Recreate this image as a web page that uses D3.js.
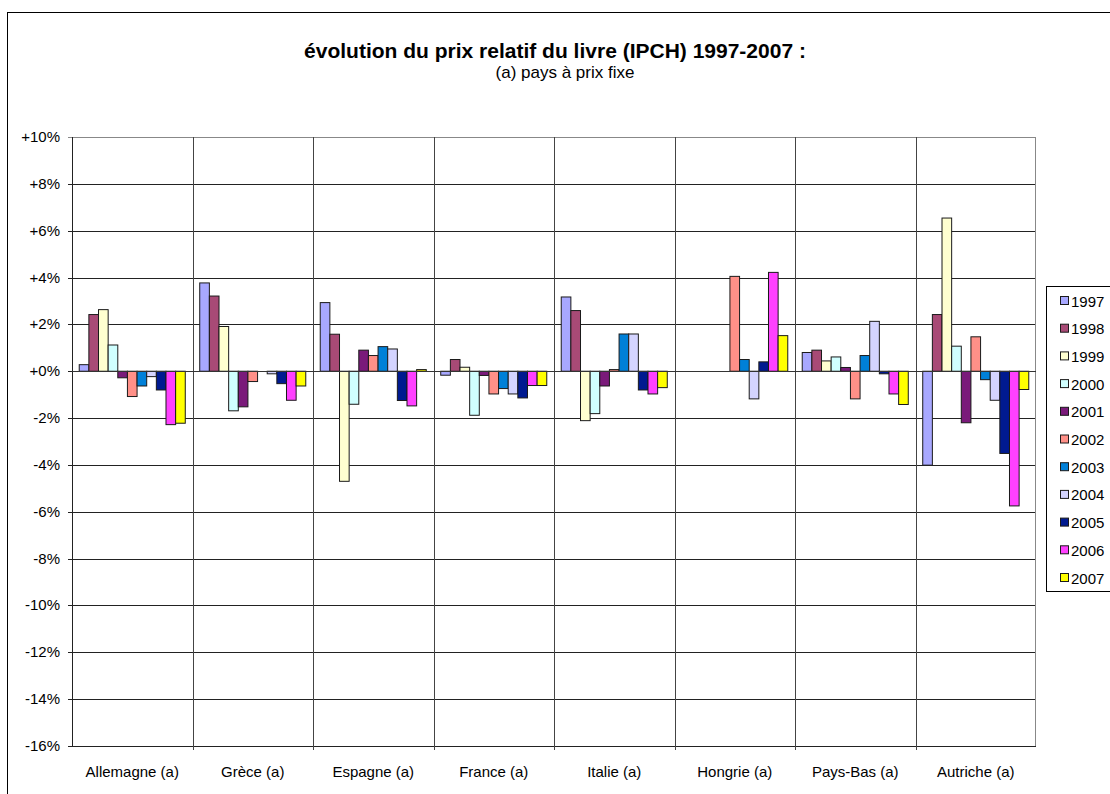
<!DOCTYPE html>
<html>
<head>
<meta charset="utf-8">
<script src="https://cdn.jsdelivr.net/npm/d3@7"></script>
<style>
  body { margin: 0; background: #fff; }
  text { font-family: "Liberation Sans", Arial, sans-serif; }
</style>
</head>
<body>
<div id="chart"></div>
<script>
// Data
const countries = ["Allemagne (a)", "Grèce (a)", "Espagne (a)", "France (a)", "Italie (a)", "Hongrie (a)", "Pays-Bas (a)", "Autriche (a)"];
const years = ["1997", "1998", "1999", "2000", "2001", "2002", "2003", "2004", "2005", "2006", "2007"];
const colors = ["#a8a8ff", "#a84a76", "#ffffd0", "#d0ffff", "#7a1a7a", "#ff9088", "#0080d8", "#d4d4ff", "#001a90", "#ff40ff", "#ffff00"];

// one array per country, values in % for 1997..2007
const allemagne = [0.28, 2.42, 2.63, 1.12, -0.28, -1.08, -0.63, -0.23, -0.80, -2.28, -2.22];
const grece     = [3.77, 3.21, 1.91, -1.69, -1.52, -0.44, 0, -0.11, -0.53, -1.24, -0.63];
const espagne   = [2.93, 1.58, -4.7, -1.41, 0.90, 0.67, 1.05, 0.95, -1.25, -1.48, 0.07];
const france    = [-0.17, 0.50, 0.17, -1.88, -0.18, -0.97, -0.74, -0.97, -1.14, -0.61, -0.61];
const italie    = [3.17, 2.59, -2.11, -1.81, -0.63, 0.07, 1.59, 1.59, -0.80, -0.97, -0.70];
const hongrie   = [0, 0, 0, 0, 0, 4.05, 0.50, -1.18, 0.40, 4.22, 1.52];
const paysBas   = [0.80, 0.90, 0.44, 0.61, 0.16, -1.18, 0.67, 2.13, -0.11, -0.97, -1.42];
const autriche  = [-4.01, 2.42, 6.54, 1.07, -2.20, 1.47, -0.36, -1.24, -3.51, -5.75, -0.78];

const yTicks = [10, 8, 6, 4, 2, 0, -2, -4, -6, -8, -10, -12, -14, -16];

const values = [allemagne, grece, espagne, france, italie, hongrie, paysBas, autriche];

// Chart dimensions
let margin = { top: 137, right: 74, bottom: 48, left: 72 };
let width = 1110 - margin.left - margin.right;
let height = 794 - margin.top - margin.bottom;

let svgRoot = d3.select("#chart")
    .append("svg")
    .attr("width", 1110)
    .attr("height", 794);

// outer frame
svgRoot.append("rect")
    .attr("x", 7.5).attr("y", 12.5)
    .attr("width", 1120).attr("height", 800)
    .attr("fill", "#fff")
    .attr("stroke", "#000")
    .attr("stroke-width", 1);

// Title
svgRoot.append("text")
    .attr("x", 555).attr("y", 58)
    .attr("text-anchor", "middle")
    .style("font-size", "21px")
    .style("font-weight", "bold")
    .text("évolution du prix relatif du livre (IPCH) 1997-2007 :");

svgRoot.append("text")
    .attr("x", 565).attr("y", 78)
    .attr("text-anchor", "middle")
    .style("font-size", "17px")
    .text("(a) pays à prix fixe");

let svg = svgRoot.append("g")
    .attr("transform", `translate(${margin.left},${margin.top})`);

// Scales
let x0 = d3.scaleBand().domain(countries).range([0, width]).padding(0);
let x1 = d3.scaleBand().domain(years).range([0, x0.bandwidth()]).paddingInner(0).paddingOuter(0.75);
let y = d3.scaleLinear().domain([-16, 10]).range([height, 0]);
let color = d3.scaleOrdinal().domain(years).range(colors);

// horizontal gridlines
svg.append("g")
    .selectAll("line")
    .data(yTicks)
    .enter().append("line")
    .attr("x1", -4).attr("x2", width)
    .attr("y1", d => Math.round(y(d)) + 0.5)
    .attr("y2", d => Math.round(y(d)) + 0.5)
    .attr("stroke", d => d === 10 ? "#888" : "#222")
    .attr("stroke-width", 1);

// vertical gridlines at category boundaries
svg.append("g")
    .selectAll("line")
    .data(countries.slice(1))
    .enter().append("line")
    .attr("x1", d => Math.round(x0(d)) + 0.5)
    .attr("x2", d => Math.round(x0(d)) + 0.5)
    .attr("y1", 0).attr("y2", height + 4)
    .attr("stroke", "#444");

// plot border
svg.append("line")
    .attr("x1", 0.5).attr("x2", 0.5).attr("y1", 0).attr("y2", height)
    .attr("stroke", "#222");
svg.append("line")
    .attr("x1", Math.round(width) - 0.5).attr("x2", Math.round(width) - 0.5).attr("y1", 0).attr("y2", height)
    .attr("stroke", "#888");

// Bars
let groups = svg.selectAll(".country")
    .data(countries)
    .enter().append("g")
    .attr("class", "country")
    .attr("transform", d => `translate(${x0(d)},0)`);

groups.selectAll("rect")
    .data((c, i) => years.map((yr, j) => ({ year: yr, value: values[i][j] })))
    .enter().append("rect")
    .filter(d => d.value !== 0)
    .attr("x", d => x1(d.year))
    .attr("width", x1.bandwidth())
    .attr("y", d => y(Math.max(0, d.value)))
    .attr("height", d => Math.abs(y(d.value) - y(0)))
    .attr("fill", d => color(d.year))
    .attr("stroke", "#1a1a1a")
    .attr("stroke-width", 1);

// zero line on top
svg.append("line")
    .attr("x1", 0).attr("x2", width)
    .attr("y1", Math.round(y(0)) + 0.5).attr("y2", Math.round(y(0)) + 0.5)
    .attr("stroke", "#333");

// Y axis labels
svg.append("g")
    .selectAll("text")
    .data(yTicks)
    .enter().append("text")
    .attr("x", -12)
    .attr("y", d => y(d) + 5)
    .attr("text-anchor", "end")
    .style("font-size", "15px")
    .text(d => (d >= 0 ? "+" : "") + d + "%");

// X axis labels
svg.append("g")
    .selectAll("text")
    .data(countries)
    .enter().append("text")
    .attr("x", d => x0(d) + x0.bandwidth() / 2)
    .attr("y", height + 31)
    .attr("text-anchor", "middle")
    .style("font-size", "15px")
    .text(d => d);

// Legend
let legend = svgRoot.append("g");
legend.append("rect")
    .attr("x", 1046.5).attr("y", 286.5)
    .attr("width", 100).attr("height", 305)
    .attr("fill", "#fff")
    .attr("stroke", "#000");

let items = legend.selectAll(".item")
    .data(years)
    .enter().append("g")
    .attr("class", "item")
    .attr("transform", (d, i) => `translate(1060, ${301 + i * 27.7})`);

items.append("rect")
    .attr("x", 0.5).attr("y", -4.5)
    .attr("width", 8).attr("height", 8)
    .attr("fill", d => color(d))
    .attr("stroke", "#1a1a1a");

items.append("text")
    .attr("x", 11)
    .attr("y", 5.5)
    .style("font-size", "15px")
    .text(d => d);
</script>
</body>
</html>
